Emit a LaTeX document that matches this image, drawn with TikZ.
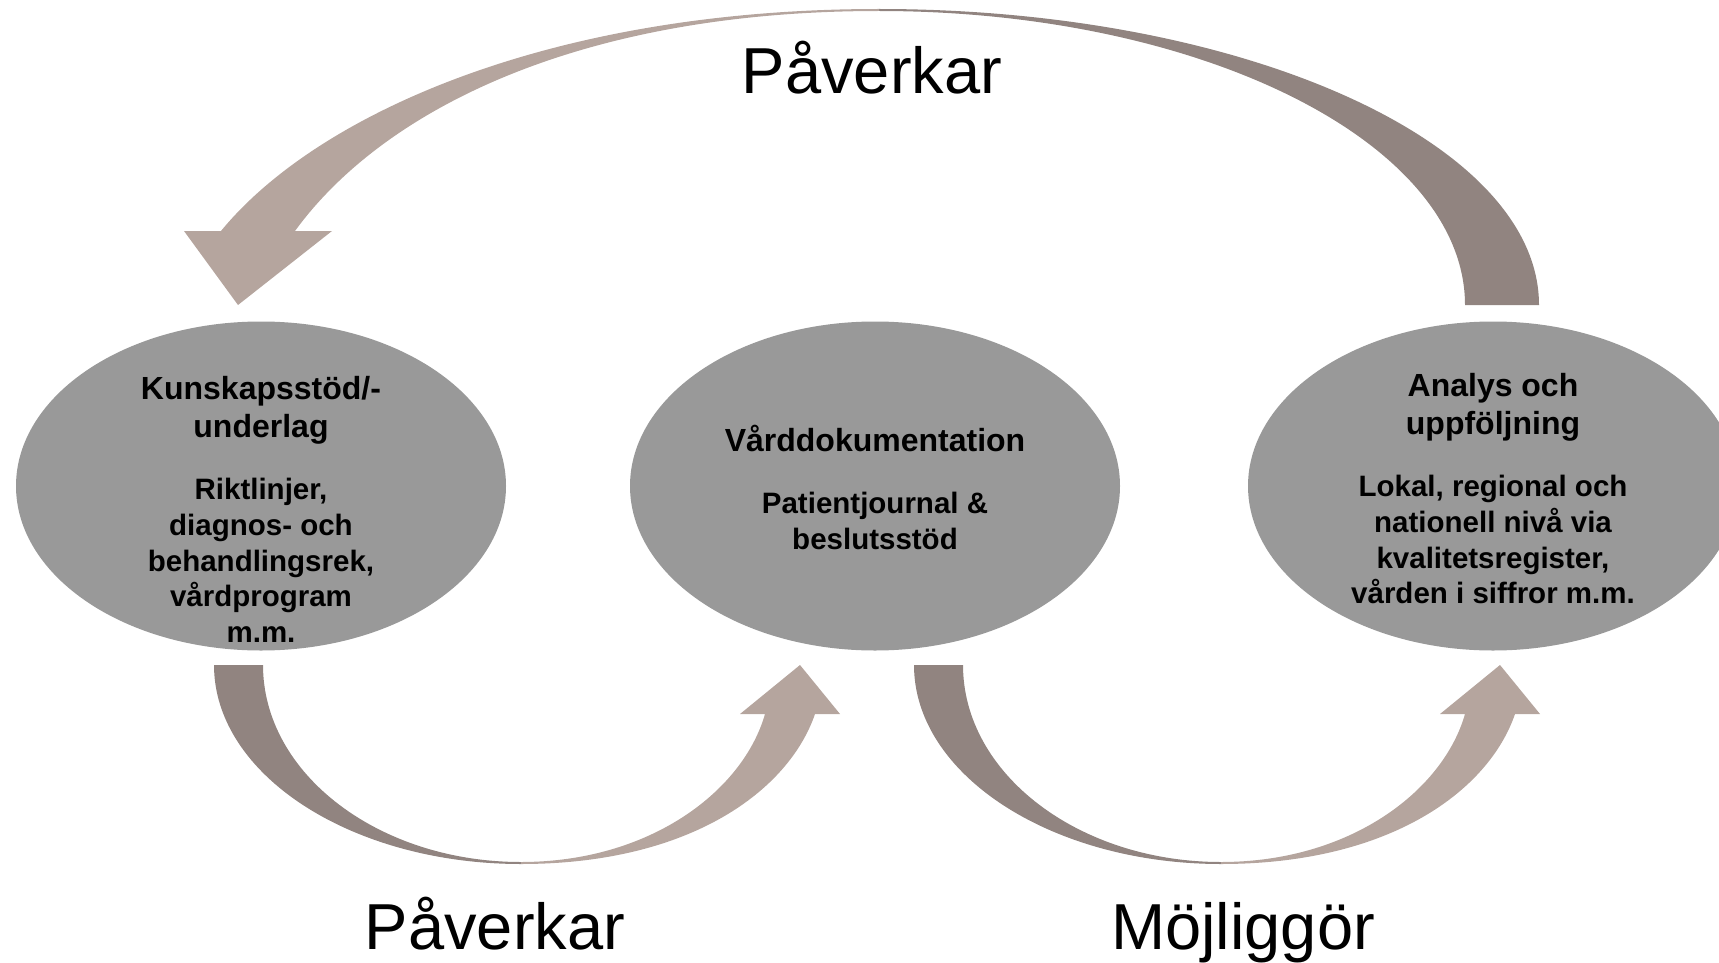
\documentclass[tikz,border=0pt]{standalone}
\usepackage{fontspec}
\setmainfont{Liberation Sans}
\usetikzlibrary{shapes,positioning}

\definecolor{blobgray}{HTML}{999999}
\definecolor{arrowdark}{HTML}{918480}
\definecolor{arrowlight}{HTML}{B5A59E}

\begin{document}
\begin{tikzpicture}[x=1pt,y=-1pt,
  blob/.style={ellipse,fill=blobgray,inner sep=0pt,minimum width=490pt,minimum height=329pt},
  headtxt/.style={align=center,inner sep=0pt,anchor=north,font=\bfseries\fontsize{32}{38}\selectfont},
  bodytxt/.style={align=center,inner sep=0pt,font=\bfseries\fontsize{29.5}{35.6}\selectfont},
  bigtxt/.style={inner sep=0pt,anchor=base,font=\fontsize{65}{78}\selectfont},
  tailpart/.style={fill=arrowdark},
  headpart/.style={fill=arrowlight}]
\clip (0,0) rectangle (1719,963);

\node[blob] at (261,486)  (kun) {};
\node[blob] at (875,486)  (vard) {};
\node[blob] at (1493,486) (ana) {};

\node[headtxt] at ([yshift=113.6pt]kun.center) (kunhead) {\strut Kunskapsstöd/-\\underlag\strut};
\node[bodytxt,below=26pt of kunhead] (kunbody) {\strut Riktlinjer,\\diagnos- och\\behandlingsrek,\\vårdprogram\\m.m.\strut};
\node[headtxt] at ([yshift=61.6pt]vard.center) (vardhead) {\strut Vårddokumentation\strut};
\node[bodytxt,below=26pt of vardhead] (vardbody) {\strut Patientjournal \&\\beslutsstöd\strut};
\node[headtxt] at ([yshift=116.6pt]ana.center) (anahead) {\strut Analys och\\uppföljning\strut};
\node[bodytxt,below=26pt of anahead] (anabody) {\strut Lokal, regional och\\nationell nivå via\\kvalitetsregister,\\vården i siffror m.m.\strut};

% top arrow, ana -> kun
\fill[tailpart] (879,9) .. controls (1243,9) and (1539,142) .. (1539,305)
  -- (1465,305) .. controls (1465,143) and (1202,11) .. (879,11) -- cycle;
\fill[headpart] (879,9) .. controls (549,9) and (316,115) .. (221,231)
  -- (184,231) -- (238,305) -- (332,231) -- (295,231)
  .. controls (383,110) and (579,11) .. (879,11) -- cycle;

% lower arrows, kun -> vard and vard -> ana
\foreach \dx in {0,700}{
\begin{scope}[xshift=\dx pt]
\fill[tailpart] (214,665) .. controls (214,775) and (352,864) .. (521,864)
  -- (521,862) .. controls (379,862) and (263,774) .. (263,665) -- cycle;
\fill[headpart] (521,864) .. controls (691,864) and (789,790) .. (815,714)
  -- (840,714) -- (800,665) -- (740,714) -- (765,714)
  .. controls (743,791) and (650,862) .. (521,862) -- cycle;
\end{scope}
}

\node[bigtxt] at (872,94)  (topword) {Påverkar};
\node[bigtxt] at (495,949) (leftword) {Påverkar};
\node[bigtxt] at (1243,949) (rightword) {Möjliggör};
\end{tikzpicture}
\end{document}
